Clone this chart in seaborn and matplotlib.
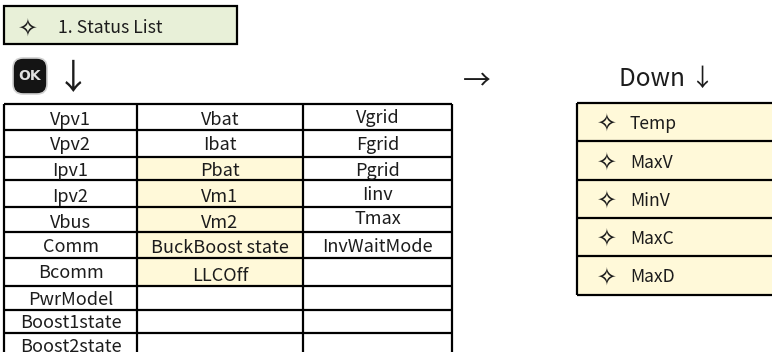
import matplotlib
matplotlib.use("Agg")
import matplotlib.pyplot as plt
import numpy as np
import seaborn as sns
from matplotlib.colors import ListedColormap
from matplotlib.patches import FancyBboxPatch, Rectangle

sns.set_theme(style="white")
plt.rcParams["font.family"] = ["Noto Sans CJK SC", "DejaVu Sans"]

# table contents
col_pv = ["Vpv1", "Vpv2", "Ipv1", "Ipv2", "Vbus", "Comm", "Bcomm", "PwrModel", "Boost1state", "Boost2state"]
col_bat = ["Vbat", "Ibat", "Pbat", "Vm1", "Vm2", "BuckBoost state", "LLCOff", "", "", ""]
col_grid = ["Vgrid", "Fgrid", "Pgrid", "Iinv", "Tmax", "InvWaitMode", "", "", "", ""]
flag_pv = [0, 0, 0, 0, 0, 0, 0, 0, 0, 0]
flag_bat = [0, 0, 1, 1, 1, 1, 1, 0, 0, 0]
flag_grid = [0, 0, 0, 0, 0, 0, 0, 0, 0, 0]
down_items = ["Temp", "MaxV", "MinV", "MaxC", "MaxD"]
down_flags = [1, 1, 1, 1, 1]
title = "1. Status List"

# layout, pixels
row_edges = [104, 130, 157, 180, 207, 232, 258, 286, 310, 333, 358]
col_edges = [4, 137, 303, 452]
down_edges = [103, 141, 180, 218, 256, 295]
down_x = (577, 772)
# small vertical nudges, the cell text does not sit quite centred in the source
nudge_pv = [1, -1, 0, 1, 1, 0, -1, 0, -1, -1]
nudge_bat = [1, -1, 1, 1, 2, 1, 2, 0, 0, 0]
nudge_grid = [-1, -1, 0, 0, -2, 0, 0, 0, 0, 0]
W, H = 772, 352
INK = "#1c1c1c"
YELLOW = "#fff9d9"
GREEN = "#e8f0d8"
diamond = "\u2727"


def pixel_axes(fig, x0, x1, y0, y1):
    return fig.add_axes([x0 / W, 1 - y1 / H, (x1 - x0) / W, (y1 - y0) / H])


def cell_map(ax, flags, heights, widths):
    # every cell is repeated once per pixel so the uneven rows stay on the seaborn grid
    grid = np.repeat(np.repeat(np.array(flags), heights, axis=0), widths, axis=1)
    sns.heatmap(grid, ax=ax, cmap=ListedColormap(["#ffffff", YELLOW]), vmin=0, vmax=1,
                cbar=False, xticklabels=False, yticklabels=False)
    ax.collections[0].set_edgecolor("face")


fig = plt.figure(figsize=(W / 100, H / 100), dpi=100, facecolor="white")

table_ax = pixel_axes(fig, col_edges[0], col_edges[-1], row_edges[0], row_edges[-1])
cell_map(table_ax, np.array([flag_pv, flag_bat, flag_grid]).T, np.diff(row_edges), np.diff(col_edges))

down_ax = pixel_axes(fig, down_x[0], down_x[1], down_edges[0], down_edges[-1])
cell_map(down_ax, np.array([down_flags]).T, np.diff(down_edges), [down_x[1] - down_x[0]])

# overlay in picture pixels for rules and labels
ax = fig.add_axes([0, 0, 1, 1], facecolor="none")
ax.set_xlim(0, W)
ax.set_ylim(H, 0)
ax.axis("off")

ax.hlines(row_edges, col_edges[0], col_edges[-1], color="black", lw=1.6)
ax.vlines(col_edges, row_edges[0], row_edges[-1], color="black", lw=1.6)
ax.hlines(down_edges, down_x[0], down_x[1], color="black", lw=1.6)
ax.vlines(down_x[0], down_edges[0], down_edges[-1], color="black", lw=1.6)

for j, (column, nudge) in enumerate(zip([col_pv, col_bat, col_grid], [nudge_pv, nudge_bat, nudge_grid])):
    cx = (col_edges[j] + col_edges[j + 1]) / 2
    for i, label in enumerate(column):
        cy = (row_edges[i] + row_edges[i + 1]) / 2 + nudge[i]
        ax.text(cx, cy, label, ha="center", va="center_baseline", fontsize=13, color=INK)

for i, label in enumerate(down_items):
    cy = (down_edges[i] + down_edges[i + 1]) / 2
    ax.text(606, cy + 1.5, diamond, ha="center", va="center", fontsize=17, color=INK,
            family=["DejaVu Sans"])
    ax.text(630, cy, label, ha="left", va="center_baseline", fontsize=12.6, color=INK)

# status header
ax.add_patch(Rectangle((4, 6), 233, 38, facecolor=GREEN, edgecolor="black", lw=1.6))
ax.text(27, 28, diamond, ha="center", va="center", fontsize=17, color=INK, family=["DejaVu Sans"])
ax.text(58, 26, title, ha="left", va="center_baseline", fontsize=12.7, color=INK)

# OK key
ax.add_patch(FancyBboxPatch((15, 60), 30, 32, boxstyle="round,pad=2,rounding_size=10",
                            facecolor="#141414", edgecolor="#d0d0d0", lw=1.2))
ax.text(30, 76, "OK", ha="center", va="center", fontsize=10, fontweight="bold", color="#e0e0e0",
        family=["DejaVu Sans"])

ax.text(73, 80, "\u2193", ha="center", va="center", fontsize=25, color=INK)
ax.text(477, 81, "\u2192", ha="center", va="center", fontsize=20, color=INK)
ax.text(667, 79, "Down \u2193", ha="center", va="center", fontsize=17.5, color=INK)

fig.savefig("out.png", dpi=100)
